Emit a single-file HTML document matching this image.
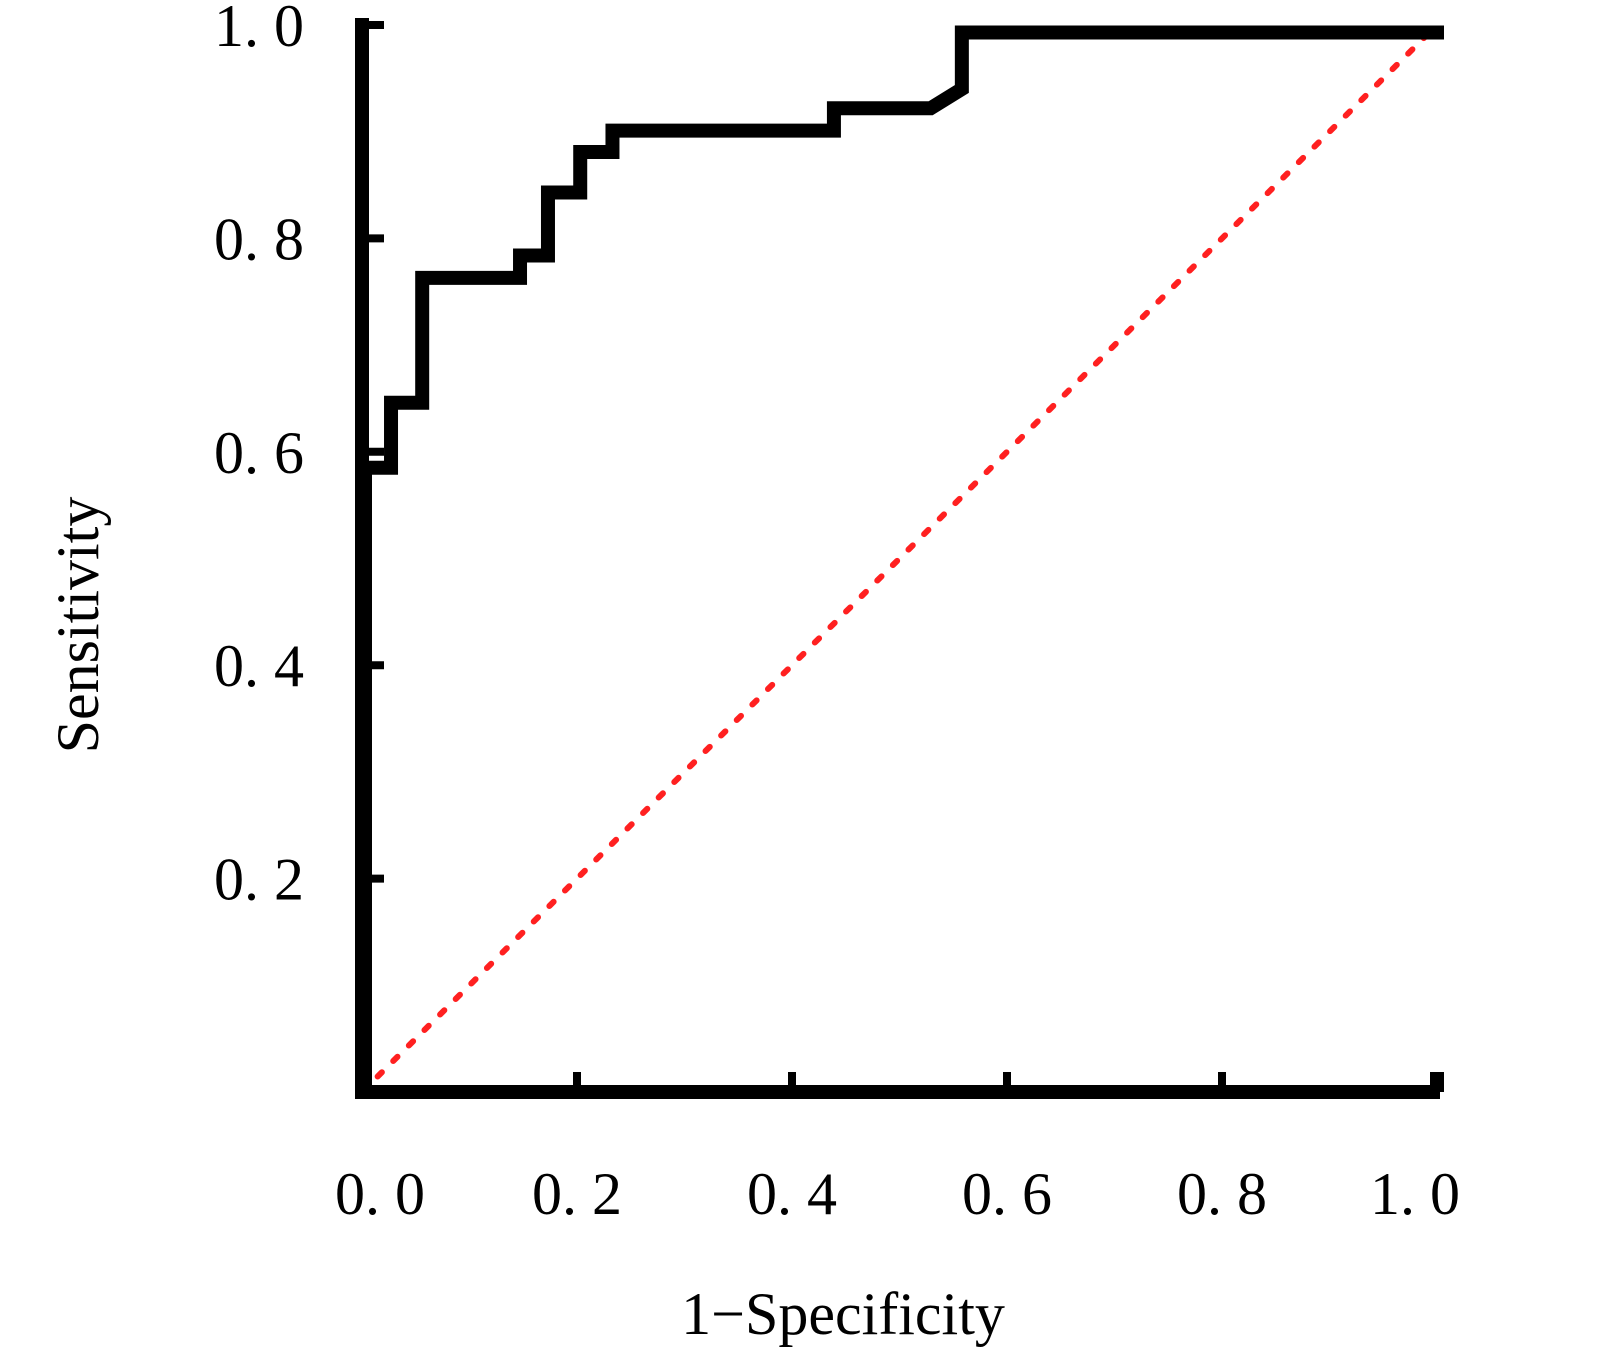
<!DOCTYPE html>
<html><head><meta charset="utf-8"><style>
html,body{margin:0;padding:0;background:#fff;}
svg{display:block;}
text{font-family:"Liberation Serif","Noto Serif CJK SC",serif;fill:#000;}
</style></head><body>
<svg id="chart" width="1615" height="1364" xmlns="http://www.w3.org/2000/svg"></svg>
<script>
const fpr = [0,0,0.027,0.027,0.056,0.056,0.147,0.147,0.173,0.173,0.203,0.203,0.233,0.233,0.439,0.439,0.529,0.558,0.558,1.0];
const tpr = [0,0.585,0.585,0.646,0.646,0.763,0.763,0.784,0.784,0.843,0.843,0.881,0.881,0.901,0.901,0.922,0.922,0.94,0.993,0.993];
const xTicks = [0,0.2,0.4,0.6,0.8,1.0];
const xTickLabels = ["0. 0","0. 2","0. 4","0. 6","0. 8","1. 0"];
const yTicks = [0.2,0.4,0.6,0.8,1.0];
const yTickLabels = ["0. 2","0. 4","0. 6","0. 8","1. 0"];

const X0=362,X1=1437,Y0=1092,Y1=25;
const sx=v=>X0+(X1-X0)*v;
const sy=v=>Y0-(Y0-Y1)*v;
const svg=document.getElementById('chart');
const NS='http://www.w3.org/2000/svg';
function mk(tag,attrs){const e=document.createElementNS(NS,tag);for(const k in attrs)e.setAttribute(k,attrs[k]);svg.appendChild(e);return e;}

// diagonal reference
let d=mk('line',{x1:sx(0),y1:sy(0),x2:sx(1),y2:sy(1),stroke:'#ff2020','stroke-width':6,'stroke-dasharray':'6 16','stroke-linecap':'round'});



// axes
let ya=mk('line',{x1:sx(0),y1:18,x2:sx(0),y2:Y0+7,stroke:'#000','stroke-width':14});


let xa=mk('line',{x1:sx(0)-7,y1:Y0,x2:X1+3,y2:Y0,stroke:'#000','stroke-width':14});



xTicks.forEach((t,i)=>{
  let tk=mk('line',{x1:sx(t),y1:Y0,x2:sx(t),y2:Y0-20,stroke:'#000','stroke-width':i==xTicks.length-1?14:8});
  
  
  let lb=mk('text',{x:sx(t)+(i==0?18:(i==xTicks.length-1?-22:0)),y:1214,'font-size':60,'text-anchor':'middle'});
  lb.textContent=xTickLabels[i];
  
  
});
yTicks.forEach((t,i)=>{
  let tk=mk('line',{x1:sx(0),y1:sy(t),x2:sx(0)+22,y2:sy(t),stroke:'#000','stroke-width':8});
  
  
  let lb=mk('text',{x:304,y:sy(t)+21,'font-size':60,'text-anchor':'end'});
  lb.textContent=yTickLabels[i];
  
  
});

// ROC curve
let pts=fpr.map((v,i)=>(v===0?sx(v)+3:sx(v))+','+sy(tpr[i])).join(' ');
let c=mk('polyline',{points:pts,fill:'none',stroke:'#000','stroke-width':14,'stroke-linejoin':'miter','stroke-linecap':'square'});



let xt=mk('text',{x:843,y:1334,'font-size':60,'text-anchor':'middle'});
xt.textContent='1−Specificity';


let yt=mk('text',{x:0,y:0,'font-size':60,'text-anchor':'middle',transform:'translate(98,625) rotate(-90)'});
yt.textContent='Sensitivity';


</script>
</body></html>
